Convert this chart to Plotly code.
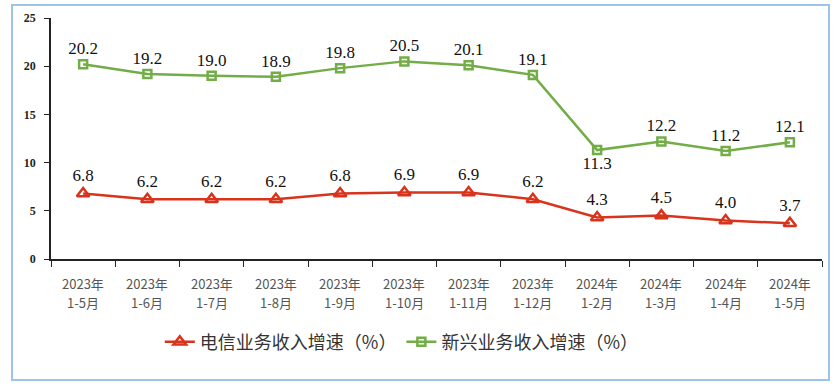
import plotly.graph_objects as go

years = ["2023年"] * 8 + ["2024年"] * 4
periods = ["1-5月", "1-6月", "1-7月", "1-8月", "1-9月", "1-10月", "1-11月", "1-12月",
           "1-2月", "1-3月", "1-4月", "1-5月"]
categories = [f"{y} {p}" for y, p in zip(years, periods)]
telecom = [6.8, 6.2, 6.2, 6.2, 6.8, 6.9, 6.9, 6.2, 4.3, 4.5, 4.0, 3.7]
emerging = [20.2, 19.2, 19.0, 18.9, 19.8, 20.5, 20.1, 19.1, 11.3, 12.2, 11.2, 12.1]
y_ticks = [0, 5, 10, 15, 20, 25]

red = "#d9331c"
green = "#72ad47"

W, H = 836, 388
L, R, T, B = 51, 14, 18, 129
pw, ph = W - L - R, H - T - B

def px(x):
    return (x - L) / pw

def py(y):
    return (H - B - y) / ph

em_pos = ["top center"] * len(emerging)
em_pos[8] = "bottom center"

fig = go.Figure()
fig.add_trace(go.Scatter(
    x=categories, y=telecom, name="电信业务收入增速（%）",
    mode="lines+markers+text", text=[f"{v:.1f}" for v in telecom],
    textposition="top center",
    textfont=dict(family="Liberation Serif", size=17, color="#111"),
    line=dict(color=red, width=2.5),
    marker=dict(symbol="triangle-up-open", size=11, color=red, line=dict(width=2.5, color=red)),
))
fig.add_trace(go.Scatter(
    x=categories, y=emerging, name="新兴业务收入增速（%）",
    mode="lines+markers+text", text=[f"{v:.1f}" for v in emerging],
    textposition=em_pos,
    textfont=dict(family="Liberation Serif", size=17, color="#111"),
    line=dict(color=green, width=2.5),
    marker=dict(symbol="square-open", size=8, color=green, line=dict(width=2.5, color=green)),
))

# two-line category labels under the axis
for c, yv, pv in zip(categories, years, periods):
    fig.add_annotation(x=c, xref="x", y=py(283), yref="paper", text=yv, showarrow=False,
                       yanchor="middle", font=dict(family="Noto Sans CJK SC", size=13, color="#555"))
    fig.add_annotation(x=c, xref="x", y=py(302), yref="paper", text=pv, showarrow=False,
                       yanchor="middle", font=dict(family="Noto Sans CJK SC", size=13, color="#555"))

fig.add_shape(type="rect", xref="paper", yref="paper",
              x0=px(12), x1=px(829), y0=py(380), y1=py(5),
              line=dict(color="#9dc3e6", width=2), layer="below")

fig.update_layout(
    width=W, height=H,
    margin=dict(l=L, r=R, t=T, b=B, autoexpand=False),
    paper_bgcolor="white", plot_bgcolor="white",
    showlegend=True,
    legend=dict(orientation="h", x=0.455, xanchor="center", y=py(342), yanchor="middle",
                font=dict(family="Noto Sans CJK SC", size=18, color="#333"),
                tracegroupgap=0),
    xaxis=dict(range=[-0.5, len(categories) - 0.5], showline=True, linecolor="#222", linewidth=1.5,
               ticks="outside", ticklen=6, tickcolor="#222", tickson="boundaries",
               showticklabels=False, showgrid=False, zeroline=False),
    yaxis=dict(range=[0, 25], tickvals=y_ticks, showline=True, linecolor="#222", linewidth=1.5,
               ticks="outside", ticklen=5, tickcolor="#222", ticklabelstandoff=6,
               tickfont=dict(family="Liberation Serif", size=12, color="#222", weight="bold"),
               showgrid=False, zeroline=False),
)

fig.write_html("out.html", config={"displayModeBar": False},
               post_script="document.body.style.margin='0';document.body.style.overflow='hidden';")
